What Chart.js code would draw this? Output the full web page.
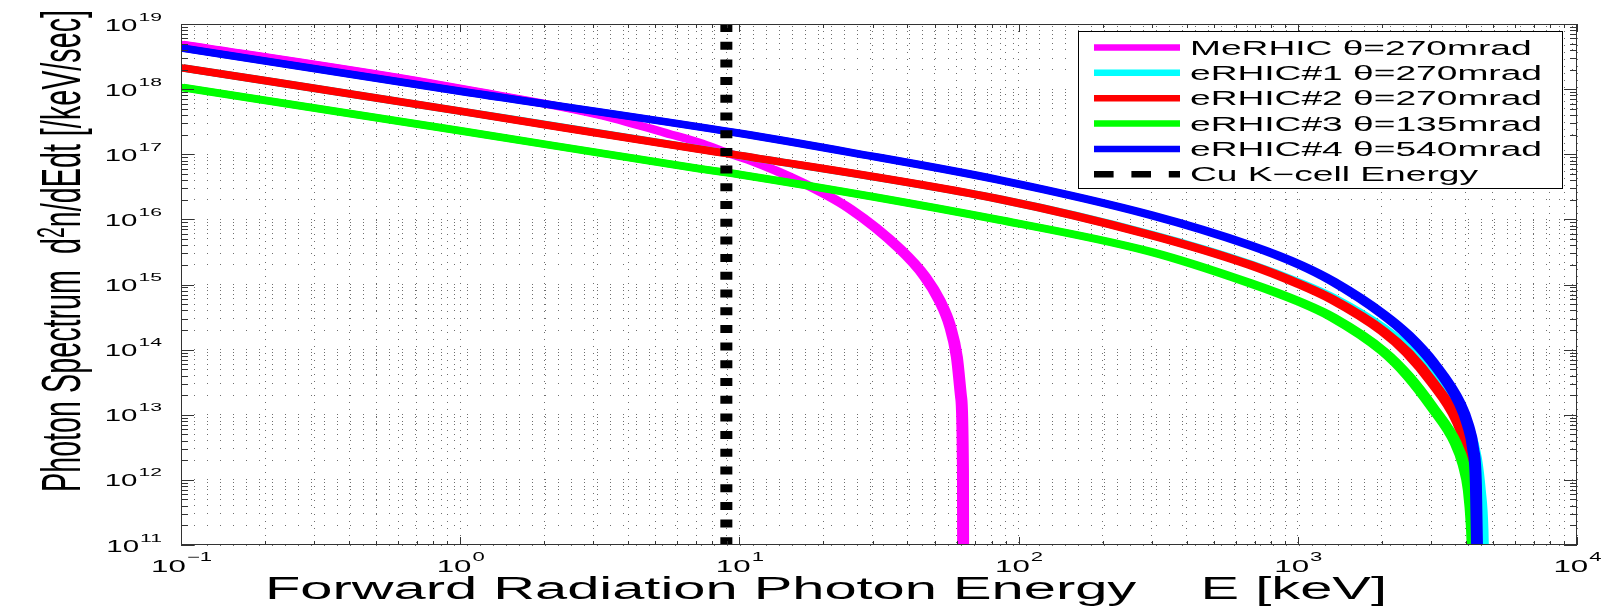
<!DOCTYPE html>
<html>
<head>
<meta charset="utf-8">
<script src="https://cdn.jsdelivr.net/npm/chart.js@4.4.1/dist/chart.umd.min.js"></script>
<style>
html, body { margin: 0; padding: 0; background: #fff; }
canvas { display: block; }
</style>
</head>
<body>
<canvas id="spectrum" width="1609" height="608"></canvas>
<script>
// photon energy E [keV] and spectrum d2n/dEdt [/keV/sec]
const merhicE = [0.1, 0.61, 1, 3.17, 5.5, 7.2, 8.5, 10.9, 16.5, 24.9, 37.6, 46.3, 52.2, 56.8, 60.1, 62.2, 63.2, 63.3];
const merhicN = [4.9e18, 1.48e18, 1.02e18, 4.0e17, 2.1e17, 1.5e17, 1.15e17, 8.1e16, 3.8e16, 1.45e16, 3.5e15, 1.3e15, 5.6e14, 2.3e14, 7.7e13, 1.9e13, 1.4e12, 3e10];

const erhic1E = [0.1, 1, 10, 85.7, 296, 674, 1019, 1337, 2018, 2481, 3050, 3715, 4070, 4345, 4485, 4586, 4624];
const erhic1N = [2.14e18, 4.6e17, 9.6e16, 2.04e16, 5.9e15, 2.05e15, 1.05e15, 6.2e14, 2.14e14, 1.05e14, 4.2e13, 1.36e13, 6.2e12, 2.15e12, 6.95e11, 1.69e11, 3e10];

const erhic2E = [0.1, 1, 7.2, 10, 85.7, 296, 674, 1019, 1337, 2018, 2481, 3050, 3715, 4083, 4258, 4345];
const erhic2N = [2.14e18, 4.6e17, 1.19e17, 9.6e16, 2.04e16, 5.8e15, 2.0e15, 1.0e15, 5.8e14, 1.92e14, 8.8e13, 3.05e13, 8.3e12, 2.66e12, 7.7e11, 3e10];

const erhic3E = [0.1, 1, 7.2, 10, 85.7, 296, 674, 1019, 1337, 2018, 2481, 3050, 3680, 3932, 4098, 4201, 4271];
const erhic3N = [1.07e18, 2.3e17, 6.0e16, 4.9e16, 9.8e15, 3.2e15, 1.05e15, 5.37e14, 3.1e14, 9.5e13, 3.96e13, 1.26e13, 3.66e12, 1.68e12, 6.95e11, 1.95e11, 3e10];

const erhic4E = [0.1, 1, 10, 24.9, 85.7, 296, 674, 1019, 1337, 2018, 2481, 3050, 3811, 4070, 4241, 4345, 4401];
const erhic4N = [4.3e18, 9.3e17, 2.1e17, 1.07e17, 4.0e16, 1.17e16, 4.0e15, 2.0e15, 1.11e15, 3.5e14, 1.67e14, 6.3e13, 1.46e13, 6.9e12, 3.07e12, 8.3e11, 3e10];

// Cu K-edge marker
const cuE = [8.98, 8.98];
const cuN = [1e19, 1e11];

const seriesLabels = ['MeRHIC \u03b8=270mrad', 'eRHIC#1 \u03b8=270mrad', 'eRHIC#2 \u03b8=270mrad',
  'eRHIC#3 \u03b8=135mrad', 'eRHIC#4 \u03b8=540mrad', 'Cu K\u2212cell Energy'];
const seriesColors = ['#ff00ff', '#00ffff', '#ff0000', '#00ff00', '#0000ff', '#000000'];

// decades shown on each axis, and the minor steps inside a decade
const xDecades = [-1, 0, 1, 2, 3, 4];
const yDecades = [11, 12, 13, 14, 15, 16, 17, 18, 19];
const minorSteps = [2, 3, 4, 5, 6, 7, 8, 9];

const FONT = '"Liberation Sans", Arial, Helvetica, sans-serif';
const SX = 1.84; // the picture is stretched sideways, text too

function pairs(xs, ys) {
  return xs.map((x, i) => ({x: x, y: ys[i]}));
}

function logTicks(decades) {
  const ticks = [];
  decades.forEach((d, i) => {
    ticks.push({value: Math.pow(10, d), major: true});
    if (i < decades.length - 1) {
      minorSteps.forEach(m => ticks.push({value: m * Math.pow(10, d), major: false}));
    }
  });
  return ticks;
}

function textWidth(ctx, text, size) {
  ctx.font = size + 'px ' + FONT;
  return ctx.measureText(text).width;
}

function wideText(ctx, text, x, y, size, sx) {
  ctx.save();
  ctx.font = size + 'px ' + FONT;
  ctx.textAlign = 'left';
  ctx.textBaseline = 'alphabetic';
  ctx.translate(x, y);
  ctx.scale(sx, 1);
  ctx.fillText(text, 0, 0);
  ctx.restore();
}

function powerLabel(ctx, exp, x, baseY, supY, baseSize, supSize, align) {
  const sup = String(exp).replace('-', '\u2212');
  const wb = textWidth(ctx, '10', baseSize) * SX;
  const ws = textWidth(ctx, sup, supSize) * SX;
  let left = x;
  if (align === 'right') left = x - wb - ws;
  if (align === 'center') left = x - (wb + ws) / 2;
  wideText(ctx, '10', left, baseY, baseSize, SX);
  wideText(ctx, sup, left + wb + 1, supY, supSize, SX);
}

// MATLAB's pen is wider across than down in this picture: draw curves twice more, shifted sideways
const widePen = {
  id: 'widePen',
  beforeDatasetDraw(chart, args) {
    const ds = chart.data.datasets[args.index];
    if (!ds.widePen) return;
    const ctx = chart.ctx;
    const a = chart.chartArea;
    [-2.5, 2.5].forEach(dx => {
      ctx.save();
      ctx.beginPath();
      ctx.rect(a.left, a.top, a.right - a.left, a.bottom - a.top);
      ctx.clip();
      ctx.translate(dx, 0);
      args.meta.controller.draw();
      ctx.restore();
    });
  }
};

const frame = {
  id: 'frame',
  afterDraw(chart) {
    const ctx = chart.ctx;
    const a = chart.chartArea;
    const xs = chart.scales.x;
    const ys = chart.scales.y;
    ctx.save();

    // box and inward ticks on all sides
    ctx.strokeStyle = '#333';
    ctx.lineWidth = 1;
    ctx.strokeRect(a.left + 0.5, a.top + 0.5, a.right - a.left - 1, a.bottom - a.top - 1);
    ctx.beginPath();
    xs.ticks.forEach(t => {
      const px = Math.round(xs.getPixelForValue(t.value)) + 0.5;
      const len = t.major ? 8 : 4;
      ctx.moveTo(px, a.bottom); ctx.lineTo(px, a.bottom - len);
      ctx.moveTo(px, a.top); ctx.lineTo(px, a.top + len);
    });
    ys.ticks.forEach(t => {
      const py = Math.round(ys.getPixelForValue(t.value)) + 0.5;
      const len = t.major ? 13 : 7;
      ctx.moveTo(a.left, py); ctx.lineTo(a.left + len, py);
      ctx.moveTo(a.right, py); ctx.lineTo(a.right - len, py);
    });
    ctx.stroke();

    // tick labels
    ctx.fillStyle = '#000';
    yDecades.forEach(d => {
      const py = ys.getPixelForValue(Math.pow(10, d));
      powerLabel(ctx, d, 161, py + 6.5, py - 3.5, 16, 11.5, 'right');
    });
    xDecades.forEach(d => {
      const px = xs.getPixelForValue(Math.pow(10, d));
      powerLabel(ctx, d, px, 572, 561, 17, 12, 'center');
    });

    // x title
    const xTitle = 'Forward Radiation Photon Energy    E [keV]';
    const xtSize = 31;
    wideText(ctx, xTitle, 265, 599, xtSize, 1122 / textWidth(ctx, xTitle, xtSize));

    // y title, read bottom to top
    const yt1 = 'Photon Spectrum  d';
    const yt2 = '2';
    const yt3 = 'n/dEdt [/keV/sec]';
    const ytSize = 28;
    const w1 = textWidth(ctx, yt1, ytSize);
    const w2 = textWidth(ctx, yt2, 19);
    const w3 = textWidth(ctx, yt3, ytSize);
    const along = 482 / (w1 + w2 + w3);
    ctx.save();
    ctx.translate(80, 492);
    ctx.rotate(-Math.PI / 2);
    ctx.scale(along, 2.0);
    ctx.textAlign = 'left';
    ctx.textBaseline = 'alphabetic';
    ctx.font = ytSize + 'px ' + FONT;
    ctx.fillText(yt1, 0, 0);
    ctx.font = '19px ' + FONT;
    ctx.fillText(yt2, w1, -8);
    ctx.font = ytSize + 'px ' + FONT;
    ctx.fillText(yt3, w1 + w2, 0);
    ctx.restore();

    // legend
    const L = {left: 1078, top: 31, right: 1562, bottom: 188};
    ctx.fillStyle = '#fff';
    ctx.fillRect(L.left, L.top, L.right - L.left, L.bottom - L.top);
    ctx.strokeStyle = '#000';
    ctx.lineWidth = 1;
    ctx.strokeRect(L.left + 0.5, L.top + 0.5, L.right - L.left, L.bottom - L.top);
    const legSize = 20;
    const legSX = 352 / textWidth(ctx, seriesLabels[1], legSize);
    chart.data.datasets.forEach((ds, i) => {
      const cy = 47.5 + i * 25.35;
      ctx.save();
      ctx.strokeStyle = ds.borderColor;
      ctx.lineWidth = 6.5;
      ctx.lineCap = 'butt';
      if (ds.borderDash && ds.borderDash.length) ctx.setLineDash([19.6, 17.8]);
      ctx.beginPath();
      ctx.moveTo(1094, cy);
      ctx.lineTo(1180, cy);
      ctx.stroke();
      ctx.restore();
      ctx.fillStyle = '#000';
      wideText(ctx, ds.label, 1190, cy + 0.358 * legSize, legSize, legSX);
    });
    ctx.restore();
  }
};

const curves = [
  [merhicE, merhicN], [erhic1E, erhic1N], [erhic2E, erhic2N], [erhic3E, erhic3N], [erhic4E, erhic4N]
];
// drawing order: blue over green over red over cyan over magenta, marker on top
const drawOrder = [5, 4, 3, 2, 1];

const datasets = curves.map((c, i) => ({
  label: seriesLabels[i],
  data: pairs(c[0], c[1]),
  borderColor: seriesColors[i],
  borderWidth: 7,
  pointRadius: 0,
  cubicInterpolationMode: 'monotone',
  clip: 0,
  order: drawOrder[i],
  widePen: true
}));
datasets.push({
  label: seriesLabels[5],
  data: pairs(cuE, cuN),
  borderColor: seriesColors[5],
  borderWidth: 12,
  borderDash: [8, 9.7],
  borderCapStyle: 'butt',
  pointRadius: 0,
  clip: 0,
  order: 0
});

const gridColor = '#6e6e6e';

new Chart(document.getElementById('spectrum').getContext('2d'), {
  type: 'line',
  data: {datasets: datasets},
  options: {
    responsive: false,
    animation: false,
    devicePixelRatio: 1,
    events: [],
    layout: {padding: {left: 181, right: 32, top: 24, bottom: 63}},
    plugins: {legend: {display: false}, tooltip: {enabled: false}},
    scales: {
      x: {
        type: 'logarithmic',
        min: 0.1,
        max: 1e4,
        afterBuildTicks: scale => { scale.ticks = logTicks(xDecades); },
        ticks: {display: false},
        grid: {color: gridColor, lineWidth: 1, drawTicks: false},
        border: {display: false, dash: [1, 6]}
      },
      y: {
        type: 'logarithmic',
        min: 1e11,
        max: 1e19,
        afterBuildTicks: scale => { scale.ticks = logTicks(yDecades); },
        ticks: {display: false},
        grid: {color: gridColor, lineWidth: 1, drawTicks: false},
        border: {display: false, dash: [1, 12]}
      }
    }
  },
  plugins: [widePen, frame]
});
</script>
</body>
</html>
